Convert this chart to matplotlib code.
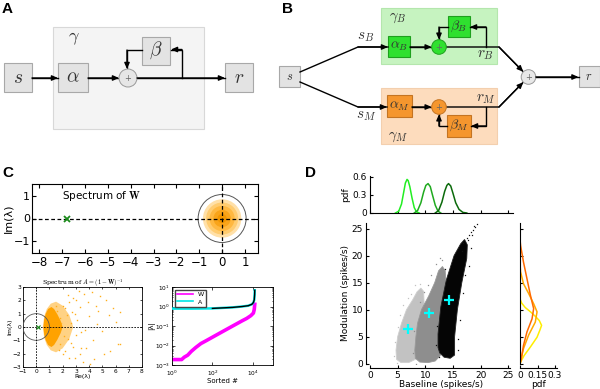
import numpy as np
import matplotlib
matplotlib.use('Agg')
import matplotlib.pyplot as plt
from matplotlib.patches import Rectangle, Circle, Polygon
from matplotlib.lines import Line2D

plt.rcParams['font.family'] = ['DejaVu Sans']
plt.rcParams['mathtext.fontset'] = 'cm'

# ---------------- data ----------------
# Panel C (top): spectrum of W
w_outlier = (-6.8, 0.0)
disc_radii = [0.84, 0.70, 0.55, 0.38, 0.2]
disc_colors = ['#ffe0a8', '#ffcc70', '#ffb840', '#f9a41a', '#f29600']
unit_ring_radius = 1.05

# Panel C (lower left): spectrum of A = (1-W)^-1
a_outlier = (0.13, 0.0)
dense_re = [0.55, 0.6, 0.72, 0.9, 1.15, 1.35, 1.6, 1.85, 2.0, 1.85, 1.6, 1.35, 1.15, 0.9, 0.72, 0.6]
dense_im = [0.0, 0.55, 1.0, 1.35, 1.5, 1.35, 0.95, 0.45, 0.0, -0.45, -0.95, -1.35, -1.5, -1.35, -1.0, -0.55]
halo_re = [0.5, 0.6, 0.8, 1.1, 1.5, 2.0, 2.5, 2.8, 2.5, 2.0, 1.5, 1.1, 0.8, 0.6]
halo_im = [0.0, 0.8, 1.35, 1.75, 1.9, 1.6, 0.9, 0.0, -0.9, -1.6, -1.9, -1.75, -1.35, -0.8]
sparse_pts = [(1.6, 1.2), (1.8, -1.3), (2.0, 1.6), (2.1, -0.7), (2.3, 0.9), (2.2, -1.8), (2.5, 1.9),
              (2.6, -1.2), (2.8, 2.2), (2.9, -2.3), (3.1, 0.5), (3.3, 1.5), (3.4, -0.4), (3.6, 2.5),
              (3.8, -1.6), (4.0, 0.8), (4.2, 2.6), (4.4, -2.4), (4.7, 1.2), (5.0, -0.3), (5.3, 2.0),
              (5.6, -1.8), (6.0, 0.4), (6.3, 1.1), (1.7, -1.7), (1.9, 0.3), (2.4, -0.9), (2.7, 1.1),
              (3.0, -0.6), (3.2, 2.7), (3.5, -2.6), (3.9, 1.9), (4.3, -1.0), (4.6, 0.2), (5.1, -2.0),
              (5.5, 0.9), (6.2, -1.3), (2.0, -2.0), (2.6, 0.3), (3.7, -0.2), (1.5, 1.6), (2.2, 1.4),
              (2.9, 1.0), (3.4, -1.6), (4.1, -2.8), (1.8, 0.7), (2.5, -2.3), (3.0, 2.0), (4.8, 2.3),
              (6.3, -1.3), (2.4, 2.4), (3.3, -2.0), (4.5, 1.6), (5.8, 1.4), (2.8, -1.5)]

# Panel C (lower right): sorted |lambda|
rank_w = [1, 3, 4, 6, 9, 15, 27, 50, 120, 300, 1100, 3000, 5000, 8000, 10700, 11800, 12500]
abs_w = [0.0019, 0.0019, 0.0025, 0.0032, 0.005, 0.0079, 0.0126, 0.0178, 0.0295, 0.05,
         0.105, 0.186, 0.245, 0.34, 0.46, 0.7, 1.3]
rank_a = [1, 10, 100, 1000, 3000, 6000, 9000, 10700, 11800, 12300, 12500]
abs_a = [0.78, 0.78, 0.8, 0.9, 1.0, 1.1, 1.3, 1.6, 2.2, 4.0, 6.8]

# Panel D: clouds (outlines) baseline vs modulation
light_x = [4.8, 5.6, 7.0, 8.2, 8.9, 9.4, 9.8, 9.7, 9.2, 8.5, 7.7, 6.6, 5.7, 5.0, 4.7]
light_y = [0.8, 0.2, 0.2, 0.8, 3.5, 7.5, 11.0, 13.4, 14.0, 13.3, 11.8, 10.0, 7.5, 5.0, 2.5]
mid_x = [8.2, 9.0, 10.5, 11.8, 12.7, 13.3, 13.6, 13.8, 13.6, 13.1, 12.4, 11.7, 10.6, 9.3, 8.6, 8.3, 8.1]
mid_y = [1.0, 0.3, 0.2, 0.5, 1.5, 5.0, 10.0, 14.0, 17.2, 18.0, 17.2, 15.0, 12.5, 10.0, 7.5, 5.0, 2.5]
dark_x = [12.6, 13.4, 14.5, 15.3, 15.3, 15.8, 16.6, 17.5, 17.6, 17.1, 16.4, 15.2, 13.8, 12.8, 12.3, 12.3]
dark_y = [2.0, 1.2, 1.0, 1.6, 5.0, 10.0, 15.0, 19.5, 22.0, 23.0, 22.2, 20.0, 15.5, 10.5, 5.5, 3.0]
light_spk = [(4.4, 1.5), (4.5, 4.0), (5.4, 9.0), (6.8, 12.2), (8.2, 14.5), (9.0, 14.8), (4.9, 0.1),
             (5.1, 6.8), (7.4, 12.9), (6.0, 10.8)]
mid_spk = [(7.8, 2.0), (8.0, 6.0), (9.0, 11.5), (11.0, 16.5), (12.0, 18.5), (13.0, 19.2), (8.4, 0.0),
           (9.8, 13.2), (10.4, 14.6), (12.6, 19.6)]
dark_spk = [(17.5, 23.2), (17.9, 23.8), (18.2, 24.3), (18.6, 24.8), (19.0, 25.3), (19.4, 25.8),
            (17.8, 22.9), (18.4, 23.9), (16.9, 22.4), (18.8, 25.5), (12.0, 3.5), (12.1, 7.0),
            (16.2, 8.0), (16.8, 13.0), (17.9, 18.0), (13.5, 17.5), (15.9, 2.5), (12.4, 1.2),
            (16.0, 4.5), (17.2, 16.5), (18.3, 21.5), (16.6, 20.9)]
mean_base = [6.9, 10.7, 14.3]
mean_mod = [6.5, 9.3, 11.8]

# Panel D: baseline pdfs (top)
green1_x = [4.6, 5.2, 5.7, 6.1, 6.4, 6.7, 6.9, 7.2, 7.6, 8.0, 8.4, 8.9]
green1_y = [0.0, 0.03, 0.15, 0.35, 0.5, 0.56, 0.54, 0.44, 0.25, 0.09, 0.02, 0.0]
green2_x = [8.0, 8.6, 9.2, 9.7, 10.1, 10.5, 10.9, 11.3, 11.8, 12.3, 12.8]
green2_y = [0.0, 0.04, 0.17, 0.35, 0.46, 0.49, 0.44, 0.3, 0.13, 0.03, 0.0]
green3_x = [11.8, 12.4, 13.0, 13.5, 13.9, 14.2, 14.6, 15.0, 15.5, 16.1, 16.8, 17.5]
green3_y = [0.0, 0.04, 0.18, 0.36, 0.46, 0.49, 0.45, 0.33, 0.17, 0.06, 0.01, 0.0]

# Panel D: modulation pdfs (right)
yellow_y = [0.0, 0.5, 1.5, 3.1, 4.9, 6.2, 7.1, 8.0, 8.8, 9.6, 10.4, 11.2, 12.0]
yellow_p = [0.0, 0.01, 0.035, 0.089, 0.146, 0.17, 0.185, 0.165, 0.13, 0.09, 0.045, 0.015, 0.0]
orange_y = [0.0, 0.9, 2.8, 5.3, 7.7, 9.6, 11.1, 13.0, 14.8, 17.0, 18.5]
orange_p = [0.0, 0.009, 0.03, 0.074, 0.131, 0.146, 0.117, 0.074, 0.03, 0.005, 0.0]
dorange_y = [0.0, 0.9, 3.4, 5.9, 8.3, 10.2, 12.7, 15.7, 18.8, 21.9, 23.0]
dorange_p = [0.0, 0.011, 0.03, 0.06, 0.103, 0.117, 0.089, 0.06, 0.03, 0.005, 0.0]

# ---------------- figure ----------------
W, H = 600, 389
fig = plt.figure(figsize=(6, 3.89), dpi=100)


def rect(x0, y0, x1, y1):
    return [x0 / W, 1 - y1 / H, (x1 - x0) / W, (y1 - y0) / H]


ax0 = fig.add_axes([0, 0, 1, 1])
ax0.set_xlim(0, W)
ax0.set_ylim(H, 0)
ax0.axis('off')

GRAYF, GRAYE = '#e3e3e3', '#a8a8a8'


def box(x0, y0, x1, y1, fc=GRAYF, ec=GRAYE, lw=0.8, z=1):
    ax0.add_patch(Rectangle((x0, y0), x1 - x0, y1 - y0, fc=fc, ec=ec, lw=lw, zorder=z))


def summer(cx, cy, r, fc, ec):
    ax0.add_patch(Circle((cx, cy), r, fc=fc, ec=ec, lw=0.7, zorder=3))
    ax0.text(cx, cy, '+', ha='center', va='center', fontsize=6, color='#666666', zorder=4)


def path(pts, arrow=True):
    xs, ys = zip(*pts)
    ax0.plot(xs, ys, color='k', lw=1.0, zorder=2, solid_joinstyle='miter')
    if arrow:
        ax0.annotate('', xy=pts[-1], xytext=pts[-2],
                     arrowprops=dict(arrowstyle='-|>,head_length=0.5,head_width=0.22',
                                     mutation_scale=7, color='k', lw=1.0,
                                     shrinkA=0, shrinkB=0), zorder=4)


def mtext(x, y, s, fs=13, color='#333333'):
    ax0.text(x, y, s, ha='center', va='center', fontsize=fs, color=color, zorder=5)


# ---- Panel A ----
box(53, 27, 204, 129, fc='#f4f4f4', ec='#d8d8d8')
mtext(74, 38, r'$\gamma$', 13)
box(4, 63, 32, 92)
mtext(18, 77, r'$s$', 14)
box(58, 63, 88, 92)
mtext(73, 77, r'$\alpha$', 14)
box(142, 37, 170, 65)
mtext(156, 50, r'$\beta$', 14)
box(225, 63, 253, 92)
mtext(239, 77, r'$r$', 14)
summer(128, 78, 9, '#e6e6e6', '#999999')
path([(32, 78), (58, 78)])
path([(88, 78), (119, 78)])
path([(137, 78), (225, 78)])
path([(182, 78), (182, 49.5), (171, 49.5)])
path([(142, 50), (127, 50), (127, 69)])

# ---- Panel B ----
box(279, 66, 300, 87)
mtext(289.5, 76, r'$s$', 9)
box(578.5, 66, 599.5, 87)
mtext(589, 76, r'$r$', 9)
box(381, 8, 497, 64, fc='#c6f3c0', ec='#b4e6ad')
box(381, 88, 497, 144, fc='#fddcbd', ec='#f3cfae')
box(388, 36, 410, 57, fc='#2fe02f', ec='#1ea01e')
mtext(399, 46, r'$\alpha_B$', 10)
box(448, 16, 470, 37, fc='#2fe02f', ec='#1ea01e')
mtext(459, 26, r'$\beta_B$', 10)
box(387, 95, 412, 117, fc='#f5962e', ec='#c47422')
mtext(399.5, 105.5, r'$\alpha_M$', 10)
box(447, 115, 471, 137, fc='#f5962e', ec='#c47422')
mtext(459, 125.5, r'$\beta_M$', 10)
summer(439, 47, 7.3, '#2fe02f', '#1ea01e')
summer(439, 107, 7.3, '#f5962e', '#c47422')
summer(528.5, 77, 7.3, '#e8e8e8', '#999999')
mtext(398, 17, r'$\gamma_B$', 10.5)
mtext(398, 136, r'$\gamma_M$', 10.5)
mtext(366, 36, r'$s_B$', 11)
mtext(366, 115, r'$s_M$', 11)
mtext(486, 54, r'$r_B$', 11)
mtext(486, 98, r'$r_M$', 11)
path([(300, 72), (358, 47), (388, 47)])
path([(300, 82), (358, 107), (387, 107)])
path([(410, 47), (431.7, 47)])
path([(412, 107), (431.7, 107)])
path([(446.3, 47), (499, 47), (523.3, 71.8)])
path([(446.3, 107), (499, 107), (523.3, 82.2)])
path([(486, 47), (486, 27), (470, 27)])
path([(448, 27), (439, 27), (439, 39.7)])
path([(486, 107), (486, 126), (471, 126)])
path([(447, 126), (439, 126), (439, 114.3)])
path([(535.8, 77), (578.5, 77)])

# panel letters
for lab, x, y in [('A', 2, 2), ('B', 282, 2), ('C', 2, 166), ('D', 305, 166)]:
    ax0.text(x, y, lab, fontsize=11, fontweight='bold', family='Liberation Sans',
             ha='left', va='top', color='k')

# ---- Panel C top ----
axc = fig.add_axes(rect(32, 184, 258, 253))
axc.set_xlim(-8.32, 1.57)
axc.set_ylim(-1.51, 1.51)
for r, c in zip(disc_radii, disc_colors):
    axc.add_patch(Circle((0, 0), r, fc=c, ec='none', zorder=1))
axc.add_patch(Circle((0, 0), unit_ring_radius, fill=False, ec='#555555', lw=0.7, zorder=2))
axc.axhline(0, color='k', lw=0.9, ls=(0, (3, 2)), zorder=3)
axc.axvline(0, color='k', lw=0.9, ls=(0, (3, 2)), zorder=3)
axc.plot([w_outlier[0]], [w_outlier[1]], 'x', color='#1a8a1a', ms=5, mew=1.3, zorder=4)
axc.text(-7.0, 1.0, r'Spectrum of $\mathbf{W}$', fontsize=7.5, va='center')
axc.set_xticks(range(-8, 2))
axc.set_yticks([-1, 0, 1])
axc.tick_params(labelsize=8.5, direction='in', length=3, pad=2, top=True, right=True)
axc.tick_params(axis='y', labelsize=8, pad=1.5)
axc.set_ylabel('Im(λ)', fontsize=8, labelpad=0)

# ---- Panel C lower left ----
axl = fig.add_axes(rect(23, 287, 142, 367))
axl.set_xlim(-1, 8)
axl.set_ylim(-3, 3)
axl.add_patch(Polygon(np.column_stack([halo_re, halo_im]), closed=True, fc='#ffc766', ec='none', alpha=0.8, zorder=1))
axl.add_patch(Polygon(np.column_stack([dense_re, dense_im]), closed=True, fc='#ffa200', ec='none', zorder=2))
sp = np.array(sparse_pts)
axl.plot(sp[:, 0], sp[:, 1], 's', color='#ffae1a', ms=1.0, mew=0, zorder=2)
axl.add_patch(Circle((0, 0), 1.0, fill=False, ec='#555555', lw=0.6, zorder=3))
axl.axhline(0, color='k', lw=0.6, ls=(0, (2, 1.5)), zorder=3)
axl.axvline(0, color='k', lw=0.6, ls=(0, (2, 1.5)), zorder=3)
axl.plot([a_outlier[0]], [a_outlier[1]], 'x', color='#1a8a1a', ms=2.5, mew=0.8, zorder=4)
axl.set_xticks(range(-1, 9))
axl.set_yticks(range(-3, 4))
axl.tick_params(labelsize=4.2, direction='in', length=1.5, pad=1.5, top=True, right=True, width=0.5)
for s in axl.spines.values():
    s.set_linewidth(0.6)
axl.set_xlabel('Re(λ)', fontsize=4.5, labelpad=0)
axl.set_ylabel('Im(λ)', fontsize=4.5, labelpad=0)
axl.set_title(r'Spectrum of $A=(1-\mathbf{W})^{-1}$', fontsize=4.5, pad=1.5, family='serif')

# ---- Panel C lower right ----
axr = fig.add_axes(rect(172, 287, 273, 365))
axr.set_xscale('log')
axr.set_yscale('log')
axr.set_xlim(1, 1e5)
axr.set_ylim(1e-3, 1e1)
axr.plot(rank_w, abs_w, color='#ff00ff', lw=2.6, zorder=2, solid_joinstyle='round')
axr.plot(rank_a, abs_a, color='#00e5e5', lw=1.8, zorder=3)
axr.plot(rank_a[2:], abs_a[2:], color='k', lw=1.0, zorder=4)
axr.legend(handles=[Line2D([], [], color='#ff00ff', lw=1.2), Line2D([], [], color='#00e5e5', lw=1.2)],
           labels=['W', 'A'], loc='upper left', fontsize=4.5, handlelength=2.5, borderpad=0.3,
           labelspacing=0.3, fancybox=False, edgecolor='#444444', framealpha=1)
axr.tick_params(which='both', labelsize=4.2, direction='in', pad=1.5, top=True, right=True, width=0.5)
axr.tick_params(axis='x', which='both', pad=3)
axr.tick_params(which='major', length=2)
axr.tick_params(which='minor', length=1)
for s in axr.spines.values():
    s.set_linewidth(0.6)
axr.set_xlabel('Sorted #', fontsize=5, labelpad=0)
axr.set_ylabel('|λ|', fontsize=5, labelpad=0)

# ---- Panel D scatter ----
XL = (0, 25.86)
YL = (0, 26.05)
axs = fig.add_axes(rect(370, 223, 513, 363.7))
axs.set_xlim(*XL)
axs.set_ylim(*YL)
axs.add_patch(Polygon(np.column_stack([light_x, light_y]), closed=True, fc='#c2c2c2', ec='#cfcfcf', lw=0.6, zorder=1))
axs.add_patch(Polygon(np.column_stack([mid_x, mid_y]), closed=True, fc='#8e8e8e', ec='#9a9a9a', lw=0.6, zorder=2))
axs.add_patch(Polygon(np.column_stack([dark_x, dark_y]), closed=True, fc='#050505', ec='#222222', lw=0.6, zorder=3))
for pts, c, z in [(light_spk, '#c2c2c2', 1), (mid_spk, '#8e8e8e', 2), (dark_spk, '#111111', 3)]:
    a = np.array(pts)
    axs.plot(a[:, 0], a[:, 1], 's', color=c, ms=0.9, mew=0, zorder=z)
axs.plot(mean_base, mean_mod, '+', color='#00ffff', ms=7, mew=1.6, zorder=5)
for side in ['top', 'right']:
    axs.spines[side].set_visible(False)
axs.spines['left'].set_position(('outward', 3))
axs.spines['bottom'].set_position(('outward', 3))
axs.spines['bottom'].set_bounds(0, 25.3)
axs.set_xticks(range(0, 26, 5))
axs.set_yticks(range(0, 26, 5))
axs.tick_params(labelsize=6.5, direction='in', length=2.5, pad=2)
axs.set_xlabel('Baseline (spikes/s)', fontsize=6.5, labelpad=0.5)
axs.set_ylabel('Modulation (spikes/s)', fontsize=6.5, labelpad=1)

# ---- Panel D top pdf ----
axt = fig.add_axes(rect(370, 175.8, 513, 213))
axt.set_xlim(*XL)
axt.set_ylim(0, 0.62)
axt.plot(green1_x, green1_y, color='#22ee22', lw=1.1)
axt.plot(green2_x, green2_y, color='#1faa1f', lw=1.1)
axt.plot(green3_x, green3_y, color='#0b6a0b', lw=1.1)
for side in ['top', 'right']:
    axt.spines[side].set_visible(False)
axt.set_xticks(range(0, 26, 5))
axt.set_xticklabels([])
axt.set_yticks([0, 0.3, 0.6])
axt.set_yticklabels(['0', '0.3', '0.6'])
axt.tick_params(labelsize=6.5, direction='in', length=2.5, pad=2)
axt.set_ylabel('pdf', fontsize=6.5, labelpad=2)

# ---- Panel D right pdf ----
axp = fig.add_axes(rect(520, 223, 557, 363.7))
axp.set_xlim(0, 0.317)
axp.set_ylim(*YL)
axp.plot(yellow_p, yellow_y, color='#ffee00', lw=1.1)
axp.plot(orange_p, orange_y, color='#ffaa00', lw=1.1)
axp.plot(dorange_p, dorange_y, color='#ff6a00', lw=1.1)
for side in ['top', 'right']:
    axp.spines[side].set_visible(False)
axp.spines['bottom'].set_position(('outward', 3))
axp.set_yticks(range(0, 26, 5))
axp.set_yticklabels([])
axp.set_xticks([0, 0.15, 0.3])
axp.set_xticklabels(['0', '0.15', '0.3'])
axp.tick_params(labelsize=6.5, direction='in', length=2.5, pad=2)
axp.set_xlabel('pdf', fontsize=6.5, labelpad=0.5)

fig.savefig('out.png', dpi=100)
